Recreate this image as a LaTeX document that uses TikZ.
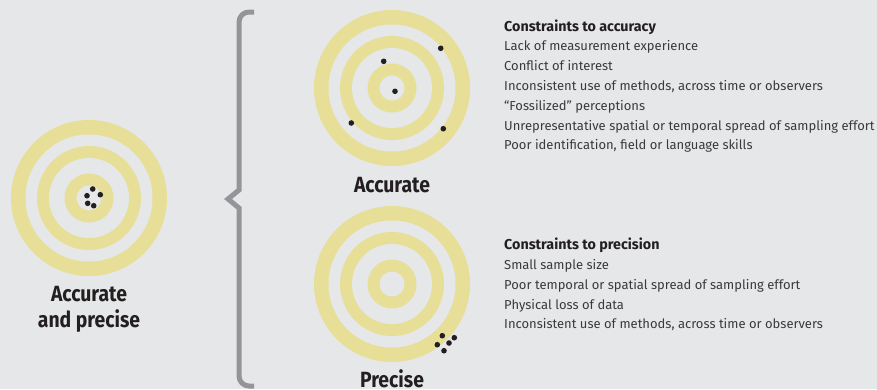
\documentclass[tikz,border=0pt]{standalone}
\usepackage{fontspec}
\setmainfont{Fira Sans}
\newfontfamily\narrowfont{Fira Sans}[FakeStretch=0.88]
\definecolor{bgc}{HTML}{E6E7E8}
\definecolor{ringc}{HTML}{E7DF98}
\definecolor{brc}{HTML}{939598}
\definecolor{dotc}{HTML}{231F20}
\definecolor{txtc}{HTML}{3A3A3C}
\tikzset{
  target/.pic={
    \fill[ringc] (0,0) circle (78pt);
    \fill[bgc] (0,0) circle (63.5pt);
    \fill[ringc] (0,0) circle (52pt);
    \fill[bgc] (0,0) circle (40pt);
    \fill[ringc] (0,0) circle (24.5pt);
    \fill[bgc] (0,0) circle (12.5pt);
  },
  shot/.style={fill=dotc},
  body/.style={anchor=base west, inner sep=0pt, text=txtc, font=\fontsize{13}{16}\selectfont},
  head/.style={anchor=base west, inner sep=0pt, text=dotc, font=\fontsize{14.3}{16}\selectfont\bfseries},
  big/.style={anchor=base, inner sep=0pt, text=dotc, font=\narrowfont\fontsize{22}{26}\selectfont\bfseries},
  brace/.style={draw=brc, line width=5pt, line join=miter}
}
\begin{document}
\begin{tikzpicture}[x=1pt,y=-1pt]
\fill[bgc] (0,0) rectangle (877,389);
\useasboundingbox (0,0) rectangle (877,389);
% targets
\pic at (89,198) {target};
\pic at (392,88) {target};
\pic at (392,284) {target};
% shots: accurate and precise
\foreach \p in {(92.7,189),(100.3,194.7),(87,195.7),(87.7,203.3),(93.7,205.7)}
  \fill[shot] \p circle (2.8pt);
% shots: accurate
\foreach \p in {(440.7,48.3),(383.7,61.3),(395,91.3),(351.3,123),(443.3,128.7)}
  \fill[shot] \p circle (2.8pt);
% shots: precise
\foreach \p in {(442.3,335.7),(454.3,337.7),(437.3,344.7),(449,343),(444,350.7)}
  \fill[shot] \p circle (2.8pt);
% labels
\node[big] (lap1) at (89,301.5) {Accurate};
\node[big] (lap2) at (89,327.5) {and precise};
\node[big] (lacc) at (392,192) {Accurate};
\node[big] (lpre) at (392,387) {Precise};
% brace
\coordinate (btop) at (254,12);
\coordinate (bbot) at (254,386);
\coordinate (btip) at (228,199);
\draw[brace] (btop) -- (249,12) arc[start angle=90, end angle=180, radius=10pt] -- (239,190) -- (btip) -- (239,208) -- (239,376) arc[start angle=180, end angle=270, radius=10pt] -- (bbot);
% accuracy constraints
\node[head] (ah) at (504,31) {Constraints to accuracy};
\node[body] (a1) at (504,50.8) {Lack of measurement experience};
\node[body] (a2) at (504,70.6) {Conflict of interest};
\node[body] (a3) at (504,90.4) {Inconsistent use of methods, across time or observers};
\node[body] (a4) at (504,110.2) {“Fossilized” perceptions};
\node[body] (a5) at (504,130) {Unrepresentative spatial or temporal spread of sampling effort};
\node[body] (a6) at (504,149.8) {Poor identification, field or language skills};
% precision constraints
\node[head] (ph) at (504,249.3) {Constraints to precision};
\node[body] (p1) at (504,269.2) {Small sample size};
\node[body] (p2) at (504,289.1) {Poor temporal or spatial spread of sampling effort};
\node[body] (p3) at (504,309) {Physical loss of data};
\node[body] (p4) at (504,328.9) {Inconsistent use of methods, across time or observers};
\end{tikzpicture}
\end{document}
